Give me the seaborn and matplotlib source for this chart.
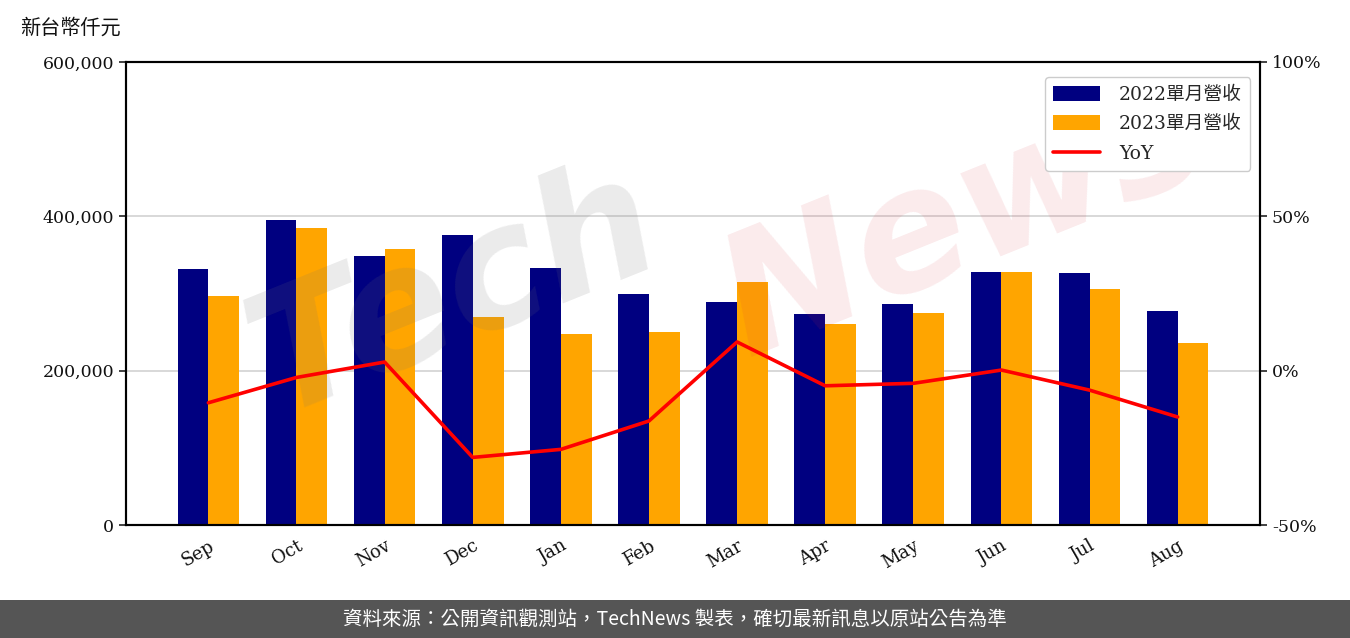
import numpy as np
import pandas as pd
import matplotlib
matplotlib.use("Agg")
import matplotlib.pyplot as plt
import seaborn as sns
from matplotlib.ticker import FuncFormatter
from matplotlib.patches import Patch, Rectangle
from matplotlib.lines import Line2D

# ---------------- data ----------------
months = ["Sep", "Oct", "Nov", "Dec", "Jan", "Feb", "Mar", "Apr", "May", "Jun", "Jul", "Aug"]
rev_2022 = [332000, 395300, 348600, 375800, 333100, 299400, 289000, 273500, 286400, 327900, 326600, 277300]
rev_2023 = [296800, 384900, 357700, 269600, 247500, 250100, 314900, 260500, 274800, 327900, 305900, 235900]
yoy = [-10.4, -2.2, 2.8, -28.1, -25.5, -16.3, 9.3, -4.9, -4.1, 0.2, -6.3, -15.0]
series_names = ["2022單月營收", "2023單月營收"]
line_name = "YoY"
unit_label = "新台幣仟元"
source_note = "資料來源：公開資訊觀測站，TechNews 製表，確切最新訊息以原站公告為準"
left_ticks = [0, 200000, 400000, 600000]
right_ticks = [-50, 0, 50, 100]

# ---------------- style ----------------
sns.set_theme(style="white")
plt.rcParams["font.family"] = ["DejaVu Serif", "Noto Sans CJK TC", "DejaVu Sans"]
plt.rcParams["axes.unicode_minus"] = False

W, H = 1350, 638
fig = plt.figure(figsize=(W / 100, H / 100), dpi=100)
ax = fig.add_axes([126 / W, 1 - 525 / H, (1260 - 126) / W, (525 - 62) / H])

df = pd.DataFrame({
    "month": months * 2,
    "revenue": rev_2022 + rev_2023,
    "series": [series_names[0]] * len(months) + [series_names[1]] * len(months),
})
colors = ["#000080", "#FFA500"]
sns.barplot(data=df, x="month", y="revenue", hue="series", palette=colors,
            width=0.7, saturation=1, ax=ax, legend=False, zorder=2,
            linewidth=0, edgecolor="none")

ax.set_xlim(-0.935, len(months) - 1 + 0.935)
ax.set_ylim(0, 600000)
ax.set_yticks(left_ticks)
ax.yaxis.set_major_formatter(FuncFormatter(lambda v, p: f"{v:,.0f}"))
ax.set_xlabel("")
ax.set_ylabel("")
ax.set_axisbelow(True)
ax.yaxis.grid(True, color="#d6d6d6", linewidth=1.3)
ax.xaxis.grid(False)
for s in ax.spines.values():
    s.set_color("black")
    s.set_linewidth(1.5)
ax.tick_params(axis="both", which="major", length=5, width=1.3, color="#333333",
               labelsize=12.5, labelcolor="#111111", direction="out")
ax.tick_params(axis="x", labelsize=13)
plt.setp(ax.get_xticklabels(), rotation=30, ha="right", rotation_mode="anchor")

# ---------------- YoY line ----------------
ax2 = ax.twinx()
sns.lineplot(x=np.arange(len(months)), y=yoy, ax=ax2, color="red", linewidth=2.6, zorder=5)
ax2.set_ylim(-50, 100)
ax2.set_yticks(right_ticks)
ax2.yaxis.set_major_formatter(FuncFormatter(lambda v, p: f"{v:.0f}%"))
ax2.set_ylabel("")
ax2.grid(False)
for s in ax2.spines.values():
    s.set_color("black")
    s.set_linewidth(1.5)
ax2.tick_params(axis="y", right=True, length=5, width=1.3, color="#333333",
                labelsize=12.5, labelcolor="#111111", direction="out")

# ---------------- watermark ----------------
ax2.text(0.29, 0.50, "Tech", transform=ax2.transAxes, fontsize=120, fontstyle="italic",
         fontweight="bold", family="DejaVu Sans", color=(0.45, 0.45, 0.45), alpha=0.14,
         rotation=22, ha="center", va="center", zorder=1)
ax2.text(0.74, 0.66, "News", transform=ax2.transAxes, fontsize=120, fontstyle="italic",
         fontweight="bold", family="DejaVu Sans", color=(0.85, 0.2, 0.25), alpha=0.1,
         rotation=22, ha="center", va="center", zorder=1)

# ---------------- legend ----------------
handles = [Patch(facecolor=colors[0], edgecolor="none"),
           Patch(facecolor=colors[1], edgecolor="none"),
           Line2D([0], [0], color="red", linewidth=2.6)]
leg = ax2.legend(handles, series_names + [line_name], loc="upper right", fontsize=13.5,
                 frameon=True, fancybox=True, edgecolor="#cccccc", framealpha=1,
                 bbox_to_anchor=(0.9965, 0.9795), borderaxespad=0.3,
                 handlelength=2.5, handleheight=0.85, handletextpad=1.0,
                 labelspacing=0.62, borderpad=0.45)
leg.set_zorder(10)

# ---------------- texts / footer ----------------
fig.text(20 / W, 1 - 28 / H, unit_label, fontsize=14.5, va="center", ha="left", color="#111111",
         family=["Noto Sans CJK TC", "DejaVu Sans"])
fig.patches.append(Rectangle((0, 0), 1, 38 / H, transform=fig.transFigure,
                             facecolor="#555555", edgecolor="none", zorder=0))
fig.text(0.5, 19 / H, source_note, fontsize=14, va="center", ha="center", color="white",
         family=["Noto Sans CJK TC", "DejaVu Sans"])

fig.savefig("out.png", dpi=100, facecolor="white")
